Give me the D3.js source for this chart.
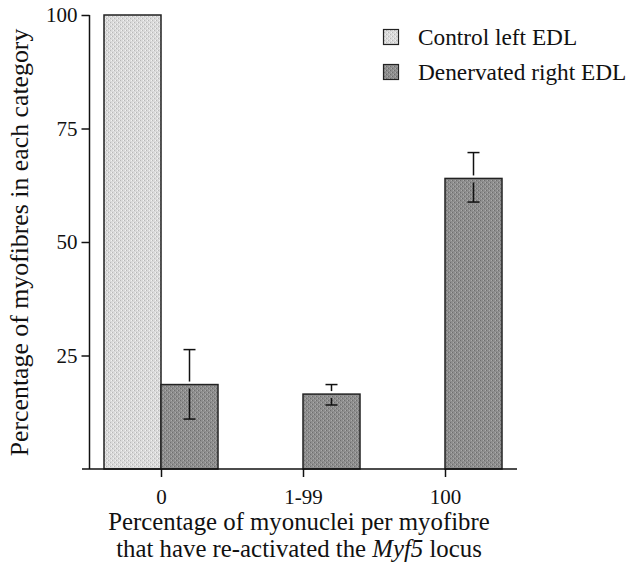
<!DOCTYPE html>
<html><head><meta charset="utf-8">
<script src="https://cdn.jsdelivr.net/npm/d3@7"></script>
<style>
html,body{margin:0;padding:0;background:#fff;}
svg text{font-family:"Liberation Serif","Times New Roman",serif;fill:#111;}
</style></head>
<body>
<svg id="chart" width="632" height="564"></svg>
<script>
const categories = ["0", "1-99", "100"];
const seriesNames = ["Control left EDL", "Denervated right EDL"];
const controlValues = [100, 0, 0];
const denervatedValues = [18.6, 16.5, 64.0];
const denervatedErrHigh = [26.3, 18.6, 69.7];
const denervatedErrLow = [11.0, 14.1, 58.8];
const yTicks = [25, 50, 75, 100];

const FONT = '"Liberation Serif","Times New Roman",serif';
const svg = d3.select("#chart");
const defs = svg.append("defs");

function makePattern(id, c1, c2, c3) {
  const p = defs.append("pattern").attr("id", id).attr("patternUnits", "userSpaceOnUse")
    .attr("width", 4).attr("height", 4);
  p.append("rect").attr("width", 4).attr("height", 4).attr("fill", c1);
  p.append("rect").attr("x", 0).attr("y", 0).attr("width", 1).attr("height", 1).attr("fill", c2);
  p.append("rect").attr("x", 2).attr("y", 2).attr("width", 1).attr("height", 1).attr("fill", c2);
  p.append("rect").attr("x", 1).attr("y", 2).attr("width", 1).attr("height", 1).attr("fill", c3);
  p.append("rect").attr("x", 3).attr("y", 0).attr("width", 1).attr("height", 1).attr("fill", c3);
}
makePattern("patLight", "#dadada", "#b8b8b8", "#f2f2f2");
makePattern("patDark", "#8e8e8e", "#6e6e6e", "#ababab");

const y = d3.scaleLinear().domain([0, 100]).range([469, 15]);
const x = d3.scalePoint().domain(categories).range([161, 445]);
const barW = 57;
const axisX = 89.5;

// bars
const g = svg.append("g");
categories.forEach((c, i) => {
  if (controlValues[i] > 0) {
    g.append("rect").attr("x", x(c) - barW).attr("y", y(controlValues[i]))
      .attr("width", barW).attr("height", y(0) - y(controlValues[i]))
      .attr("fill", "url(#patLight)").attr("stroke", "#222").attr("stroke-width", 1.5);
  }
  g.append("rect").attr("x", x(c)).attr("y", y(denervatedValues[i]))
    .attr("width", barW).attr("height", y(0) - y(denervatedValues[i]))
    .attr("fill", "url(#patDark)").attr("stroke", "#222").attr("stroke-width", 1.5);
  // error bars
  const cx = x(c) + barW / 2;
  const top = y(denervatedValues[i]);
  const hi = y(denervatedErrHigh[i]);
  const lo = y(denervatedErrLow[i]);
  const cap = 6;
  g.append("line").attr("x1", cx).attr("x2", cx).attr("y1", hi).attr("y2", top - 3)
    .attr("stroke", "#111").attr("stroke-width", 1.5);
  g.append("line").attr("x1", cx).attr("x2", cx).attr("y1", top + 4).attr("y2", lo)
    .attr("stroke", "#111").attr("stroke-width", 1.5);
  g.append("line").attr("x1", cx - cap).attr("x2", cx + cap).attr("y1", hi).attr("y2", hi)
    .attr("stroke", "#111").attr("stroke-width", 1.5);
  g.append("line").attr("x1", cx - cap).attr("x2", cx + cap).attr("y1", lo).attr("y2", lo)
    .attr("stroke", "#111").attr("stroke-width", 1.5);
});

// y axis
const yAxis = svg.append("g").attr("transform", `translate(${axisX},0)`)
  .call(d3.axisLeft(y).tickValues(yTicks).tickSize(8).tickPadding(4));
yAxis.attr("font-family", FONT).attr("font-size", 21);
yAxis.select(".domain").remove();
yAxis.append("line").attr("x1", 0).attr("x2", 0).attr("y1", y(100)).attr("y2", y(0))
  .attr("stroke", "#111").attr("stroke-width", 1.5);
yAxis.selectAll(".tick line").attr("stroke", "#111").attr("stroke-width", 1.5);
yAxis.selectAll(".tick text").style("font-family", FONT).style("font-size", "21px").style("fill", "#111");

// x axis
const xAxis = svg.append("g").attr("transform", `translate(0,${y(0)})`)
  .call(d3.axisBottom(x).tickSize(8).tickPadding(12));
xAxis.attr("font-family", FONT).attr("font-size", 21);
xAxis.select(".domain").remove();
xAxis.append("line").attr("x1", 82).attr("x2", 517).attr("y1", 0).attr("y2", 0)
  .attr("stroke", "#111").attr("stroke-width", 1.5);
xAxis.selectAll(".tick line").attr("stroke", "#111").attr("stroke-width", 1.5);
xAxis.selectAll(".tick text").style("font-family", FONT).style("font-size", "21px").style("fill", "#111");

// y title
svg.append("text").attr("transform", "translate(28,242.5) rotate(-90)")
  .attr("text-anchor", "middle").attr("font-size", 25.8)
  .text("Percentage of myofibres in each category");

// x title
svg.append("text").attr("x", 299).attr("y", 530).attr("text-anchor", "middle")
  .attr("font-size", 24.8).text("Percentage of myonuclei per myofibre");
const t2 = svg.append("text").attr("x", 299).attr("y", 557).attr("text-anchor", "middle")
  .attr("font-size", 24.8);
t2.append("tspan").text("that have re-activated the ");
t2.append("tspan").attr("font-style", "italic").text("Myf5");
t2.append("tspan").text(" locus");

// legend
const legendFills = ["url(#patLight)", "url(#patDark)"];
const leg = svg.append("g");
seriesNames.forEach((s, i) => {
  const ly = 37 + i * 35;
  leg.append("rect").attr("x", 383.5).attr("y", ly - 7.5).attr("width", 15).attr("height", 15)
    .attr("fill", legendFills[i]).attr("stroke", "#222").attr("stroke-width", 1.2);
  leg.append("text").attr("x", 418).attr("y", ly + 7.5).attr("font-size", 23.3).text(s);
});
</script>
</body></html>
